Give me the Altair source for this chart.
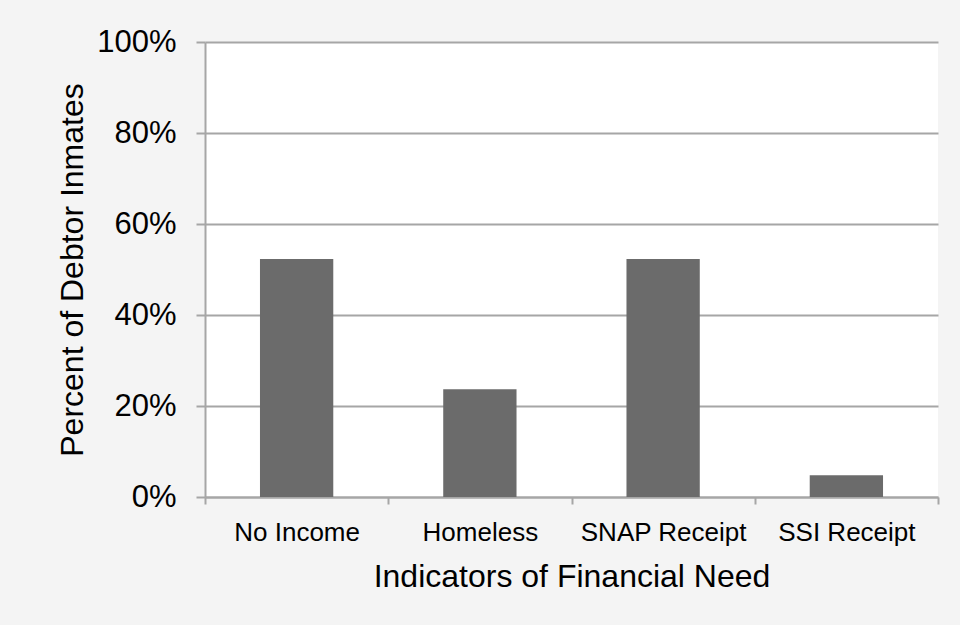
import altair as alt
import pandas as pd

categories = ["No Income", "Homeless", "SNAP Receipt", "SSI Receipt"]
values = [0.523, 0.237, 0.523, 0.048]
y_ticks = [0, 0.2, 0.4, 0.6, 0.8, 1.0]

df = pd.DataFrame({"cat": categories, "val": values})

FONT = "Liberation Sans"
GRID = "#a6a6a6"

chart = alt.Chart(df).mark_bar(color="#6b6b6b", width=alt.RelativeBandSize(0.4)).encode(
    x=alt.X("cat:N", sort=categories,
            scale=alt.Scale(paddingInner=0, paddingOuter=0),
            axis=alt.Axis(title="Indicators of Financial Need", labelAngle=0,
                          tickBand="extent",
                          tickSize=7, tickColor=GRID, tickWidth=2,
                          domainColor=GRID, domainWidth=2,
                          labelFont=FONT, labelFontSize=26, labelColor="black",
                          labelBaseline="alphabetic", labelPadding=36,
                          titleFont=FONT, titleFontSize=32, titleFontWeight="normal",
                          titleColor="black", titleBaseline="alphabetic", titleY=89)),
    y=alt.Y("val:Q", scale=alt.Scale(domain=[0, 1], nice=False),
            axis=alt.Axis(title="Percent of Debtor Inmates", values=y_ticks, format=".0%",
                          grid=True, gridColor=GRID, gridWidth=2,
                          tickSize=9, tickColor=GRID, tickWidth=2,
                          domainColor=GRID, domainWidth=2,
                          labelFont=FONT, labelFontSize=31, labelColor="black",
                          labelPadding=20,
                          titleFont=FONT, titleFontSize=32, titleFontWeight="normal",
                          titleColor="black", titleBaseline="alphabetic", titleX=-123)),
).properties(
    width=733, height=455,
    background="#f4f4f4",
    padding={"left": 205, "top": 42, "right": 22, "bottom": 128},
    autosize=alt.AutoSizeParams(type="none"),
).configure_view(fill="white", stroke=None)

chart.save("out.html", embed_options={"renderer": "svg", "actions": False})
